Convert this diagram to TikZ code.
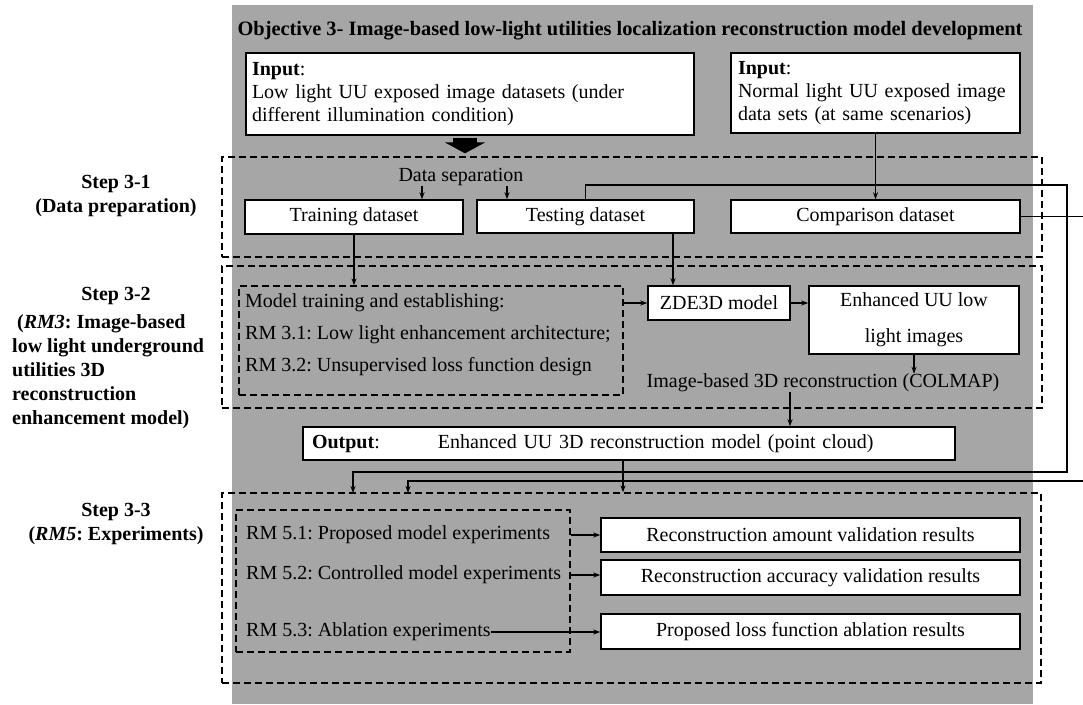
\documentclass[tikz,border=0pt]{standalone}
\usepackage{fontspec}
\setmainfont{Liberation Serif}
\usetikzlibrary{arrows.meta,positioning}
\frenchspacing

\begin{document}
\begin{tikzpicture}
[x=1pt,y=-1pt,>={Stealth[length=7pt,width=5pt]},
  font=\fontsize{20}{23}\selectfont,
  data node/.style={draw,line width=1.5pt,fill=white,inner sep=0pt},
  stage box/.style={draw,dash pattern=on 7pt off 4pt,line width=1.3pt,inner sep=0pt},
  plain text/.style={inner sep=0pt},
  step label/.style={inner sep=0pt,font=\fontsize{20}{24}\selectfont\bfseries,align=center},
  link/.style={->,line width=1.2pt},
  fat link/.style={-{Triangle[width=40pt,length=11pt]},line width=24pt}]

  \useasboundingbox (0,0) rectangle (1083,704);
  \clip (0,0) rectangle (1083,704);
  \fill[gray!70] (232,5) rectangle (1033,704);

  % stages
  \node[stage box,minimum width=820pt,minimum height=100pt] (s31) at (632,207) {};
  \node[stage box,minimum width=820pt,minimum height=142pt] (s32) at (632,337) {};
  \node[stage box,minimum width=819pt,minimum height=190pt] (s33) at (631.5,588) {};

  \node[step label] (lab31) at (116,196) {Step 3-1\\(Data preparation)};
  \node[step label] (lab32) at (116,296) {Step 3-2};
  \node[step label,align=left,anchor=north west] (lab32txt) at (12,314) {\hspace*{5pt}(\textit{RM3}: Image-based\\low light underground\\utilities 3D\\reconstruction\\enhancement model)};
  \node[step label] (lab33) at (116,524) {Step 3-3\\(\textit{RM5}: Experiments)};

  \node[plain text,font=\fontsize{20.4}{23}\selectfont\bfseries] (title) at (630,31) {Objective 3- Image-based low-light utilities localization reconstruction model development};

  \node[data node,text width=436pt,minimum height=82pt,inner xsep=6pt,align=left] (lowin) at (470,94) {\textbf{Input}:\\Low light UU exposed image datasets (under\\different illumination condition)};
  \node[data node,text width=275pt,minimum height=80pt,inner xsep=7pt,align=left] (normin) at (875.5,93) {\textbf{Input}:\\Normal light UU exposed image\\data sets (at same scenarios)};

  \node[plain text] (datasep) at (461,177) {Data separation};
  \node[data node,minimum width=218pt,minimum height=34pt] (training) at (354,217) {Training dataset};
  \node[data node,minimum width=217pt,minimum height=33pt] (testing) at (585.5,216.5) {Testing dataset};
  \node[data node,minimum width=289pt,minimum height=33pt] (comparison) at (875.5,216.5) {Comparison dataset};

  \node[stage box,minimum width=384pt,minimum height=109pt] (trainbox) at (431,340.5) {};
  \node[plain text,anchor=west,align=left,font=\fontsize{20}{32}\selectfont] (traintxt) at (245,335) {Model training and establishing:\\RM 3.1: Low light enhancement architecture;\\RM 3.2: Unsupervised loss function design};
  \node[data node,minimum width=142pt,minimum height=34pt] (zde) at (719,303) {ZDE3D model};
  \node[data node,minimum width=210pt,minimum height=68pt,align=center] (enhanced) at (914,320) {Enhanced UU low\\[13pt]light images};
  \node[plain text] (colmap) at (823,383) {Image-based 3D reconstruction (COLMAP)};

  \node[data node,text width=634pt,minimum height=33pt,inner xsep=9pt,align=left] (output) at (629,443.5) {\makebox[126pt][l]{\textbf{Output}:}Enhanced UU 3D reconstruction model (point cloud)};

  \node[stage box,minimum width=334pt,minimum height=142pt] (expbox) at (403,581) {};
  \node[plain text,anchor=west] (rm51) at (246,535) {RM 5.1: Proposed model experiments};
  \node[plain text,anchor=west] (rm52) at (246,575) {RM 5.2: Controlled model experiments};
  \node[plain text,anchor=west] (rm53) at (246,632) {RM 5.3: Ablation experiments};
  \node[data node,minimum width=419pt,minimum height=34pt] (res1) at (810.5,535) {Reconstruction amount validation results};
  \node[data node,minimum width=419pt,minimum height=35pt] (res2) at (810.5,577.5) {Reconstruction accuracy validation results};
  \node[data node,minimum width=419pt,minimum height=35pt] (res3) at (810.5,631.5) {Proposed loss function ablation results};

  \coordinate (loopA) at (1067,185);
  \coordinate (loopB) at (1090,0);
  \coordinate (feedA) at (353,493);
  \coordinate (feedB) at (408,493);
  \coordinate (zdein) at ([xshift=-46pt]zde.north);

  % connectors
  \draw[fat link,shorten <=2pt,shorten >=3pt] ([xshift=-5pt]lowin.south) -- ([xshift=-5pt]lowin.south |- s31.north);
  \draw[link] ([xshift=-39pt]datasep.south) -- ([xshift=-39pt]datasep.south |- training.north);
  \draw[link] ([xshift=46pt]datasep.south) -- ([xshift=46pt]datasep.south |- testing.north);
  \draw[link] (normin.south) -- (comparison.north);
  \draw[link] (testing.north) |- (loopA) |- ([yshift=21pt]feedA) -- (feedA);
  \draw[link] (comparison.east) -- (comparison.east -| loopB) |- ([yshift=12pt]feedB) -- (feedB);
  \draw[link] (training.south) -- (training.south |- trainbox.north);
  \draw[link] (zdein |- testing.south) -- (zdein);
  \draw[link] (trainbox.east |- zde.west) -- (zde.west);
  \draw[link] (zde.east) -- (zde.east -| enhanced.west);
  \draw[link] (enhanced.south) -- (enhanced.south |- colmap.north);
  \draw[link] ([xshift=-33pt]colmap.south) -- ([xshift=-33pt]colmap.south |- output.north);
  \draw[link] ([xshift=-6pt]output.south) -- ([xshift=-6pt]output.south |- s33.north);
  \draw[link] (expbox.east |- res1.west) -- (res1.west);
  \draw[link] (expbox.east |- rm52.east) -- (rm52.east -| res2.west);
  \draw[link] (rm53.east) -- (rm53.east -| res3.west);

\end{tikzpicture}
\end{document}
